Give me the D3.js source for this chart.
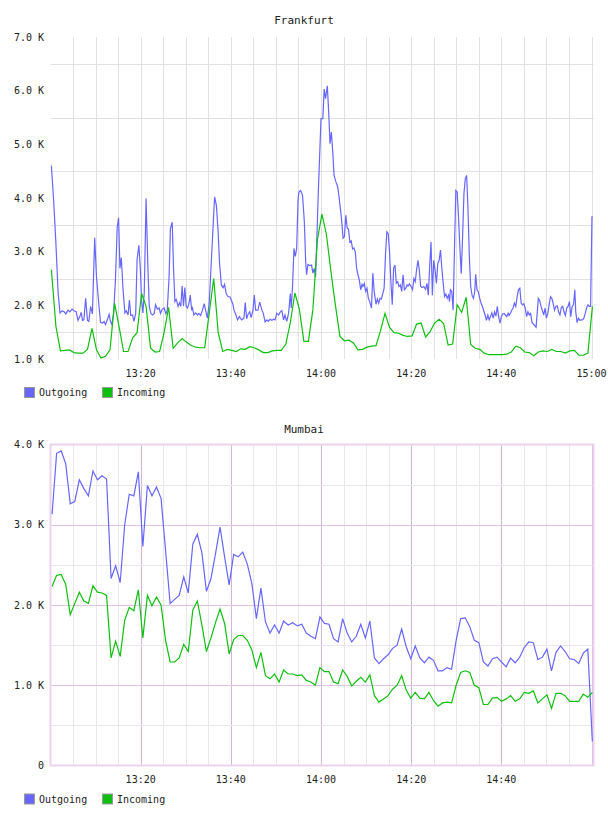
<!DOCTYPE html>
<html>
<head>
<meta charset="utf-8">
<script src="https://cdn.jsdelivr.net/npm/d3@7"></script>
<style>
  body { margin: 0; background: #fff; }
  text { font-family: "DejaVu Sans Mono", monospace; fill: #222; }
</style>
</head>
<body>
<svg id="chart" width="608" height="816"></svg>
<script>
// minutes after 13:00 -> value in K
var frankfurtOut = [[0.2,4.60],[0.7,3.95],[1.2,3.15],[1.7,2.22],[2.1,1.86],[2.6,1.90],[3.0,1.88],[3.4,1.84],[3.9,1.91],[4.3,1.88],[4.8,1.93],[5.2,1.90],[5.7,1.88],[6.1,1.72],[6.5,1.79],[6.8,1.87],[7.1,1.72],[7.4,1.73],[7.8,2.13],[8.2,1.72],[8.5,1.70],[8.9,1.98],[9.3,1.84],[9.8,3.26],[10.2,2.53],[10.7,2.04],[11.1,1.68],[11.5,1.67],[11.9,1.70],[12.2,1.64],[12.6,1.73],[13.0,1.83],[13.3,1.70],[13.6,1.64],[14.0,1.85],[14.4,2.47],[14.8,3.46],[15.1,3.63],[15.4,2.69],[15.7,2.89],[16.1,2.29],[16.5,1.86],[16.8,1.90],[17.2,1.82],[17.5,2.10],[17.8,1.81],[18.2,1.82],[18.5,1.70],[18.9,1.85],[19.2,2.85],[19.6,3.12],[19.9,2.72],[20.2,2.09],[20.5,1.86],[20.8,2.25],[21.2,3.99],[21.6,2.72],[21.9,1.98],[22.3,1.84],[22.7,1.82],[23.0,1.85],[23.3,2.01],[23.7,1.93],[24.1,1.95],[24.4,1.85],[24.8,1.93],[25.2,1.95],[25.6,1.84],[25.9,1.91],[26.3,2.53],[26.6,3.43],[27.0,3.55],[27.3,2.66],[27.6,2.07],[27.9,2.11],[28.3,1.98],[28.6,2.05],[28.9,1.98],[29.2,2.36],[29.5,1.99],[29.8,2.33],[30.1,1.98],[30.4,1.95],[30.7,2.03],[31.0,2.19],[31.3,1.91],[31.5,1.95],[31.8,1.82],[32.2,1.86],[32.6,1.82],[32.9,1.85],[33.3,1.81],[33.7,1.91],[34.1,2.03],[34.4,1.91],[34.8,1.76],[35.2,2.04],[35.5,2.53],[36.0,3.37],[36.4,4.02],[36.8,3.86],[37.2,3.34],[37.5,2.78],[37.9,2.38],[38.3,2.33],[38.6,2.39],[39.0,2.21],[39.4,2.16],[39.8,2.16],[40.1,2.10],[40.5,2.01],
  [40.7,1.91],[41.1,1.83],[41.5,1.73],[41.9,1.79],[42.4,1.73],[42.9,1.76],[43.2,2.05],[43.5,1.75],[43.8,1.83],[44.2,1.88],[44.5,1.77],[44.9,1.90],[45.2,2.19],[45.5,1.91],[46.0,1.91],[46.4,2.06],[46.9,1.91],[47.2,1.85],[47.6,1.69],[48.0,1.73],[48.3,1.70],[48.7,1.74],[49.1,1.72],[49.5,1.74],[49.8,1.73],[50.2,1.85],[50.6,1.82],[50.9,1.87],[51.3,1.90],[51.7,1.73],[52.0,1.82],[52.4,1.70],[52.8,1.85],[53.2,2.22],[53.4,1.95],[53.7,2.38],[54.0,3.06],[54.3,2.91],[54.6,3.06],[54.9,3.96],[55.1,4.11],[55.5,4.14],[55.9,4.05],[56.3,3.56],[56.6,2.81],[56.8,2.57],[57.1,2.76],[57.5,2.74],[57.9,2.75],[58.2,2.60],[58.5,2.69],[58.8,2.53],[59.1,3.31],[59.4,4.11],[59.7,4.79],[60.0,5.48],[60.4,5.48],[60.7,6.03],[61.0,5.85],[61.4,6.09],[61.7,5.60],[62.0,5.01],[62.3,5.23],[62.6,4.86],[62.9,4.42],[63.3,4.30],[63.7,4.21],[64.0,4.02],[64.3,3.80],[64.6,3.56],[64.9,3.25],[65.2,3.28],[65.5,3.68],[65.8,3.44],[66.1,3.42],[66.4,3.18],[66.7,3.20],[67.0,3.05],[67.3,3.07],[67.6,3.00],[67.9,2.69],[68.2,2.57],[68.5,2.47],[68.8,2.29],[69.1,2.39],[69.3,2.35],[69.6,2.41],[69.9,2.26],[70.2,2.32],[70.5,2.13],[70.8,2.07],[71.2,1.95],[71.5,2.60],[71.8,2.26],[72.2,2.02],[72.5,2.12],[72.8,2.04],[73.1,2.13],[73.4,2.12],[73.7,2.22],[74.0,2.32],[74.3,2.94],[74.6,3.37],[74.9,3.34],[75.2,3.00],[75.5,2.44],[75.8,2.01],[76.1,2.69],[76.4,2.75],[76.7,2.41],[77.0,2.44],[77.3,2.35],[77.6,2.38],[77.9,2.26],[78.2,2.57],[78.5,2.29],[78.8,2.32],[79.1,2.38],[79.3,2.36],[79.6,2.40],[80.0,2.35],
  [80.3,2.29],[80.6,2.50],[80.9,2.44],[81.2,2.66],[81.5,2.84],[81.8,2.66],[82.1,2.35],[82.4,2.33],[82.8,2.35],[83.2,2.30],[83.5,2.41],[83.8,2.19],[84.1,2.72],[84.4,3.18],[84.7,2.19],[85.0,2.84],[85.3,2.66],[85.6,2.41],[85.9,2.78],[86.2,2.84],[86.5,3.03],[86.8,2.69],[87.1,2.41],[87.4,2.16],[87.7,2.21],[88.0,2.13],[88.3,2.19],[88.5,2.07],[88.7,2.29],[89.0,2.26],[89.3,1.91],[89.6,3.03],[89.9,4.14],[90.2,4.11],[90.5,3.65],[90.8,3.09],[91.1,2.59],[91.4,3.27],[91.7,4.08],[92.0,4.36],[92.3,4.42],[92.6,3.80],[92.9,2.90],[93.2,2.35],[93.5,2.19],[93.8,2.13],[94.1,2.25],[94.3,2.58],[94.6,2.29],[94.9,2.25],[95.2,2.13],[95.5,2.04],[95.8,1.98],[96.1,1.90],[96.4,1.82],[96.7,1.72],[97.0,1.82],[97.3,1.73],[97.6,1.79],[97.9,1.86],[98.2,1.76],[98.5,1.88],[98.8,1.80],[99.1,1.98],[99.4,1.79],[99.7,1.67],[100.0,1.79],[100.3,1.84],[100.6,1.85],[100.9,1.82],[101.2,1.79],[101.5,1.85],[101.7,1.81],[102.0,1.85],[102.3,1.91],[102.6,1.95],[102.9,2.04],[103.2,1.98],[103.5,2.16],[103.8,2.29],[104.1,2.32],[104.4,2.04],[104.7,2.01],[105.0,2.03],[105.3,1.95],[105.6,1.79],[105.9,1.88],[106.2,1.82],[106.5,1.85],[106.8,1.68],[107.1,1.65],[107.4,1.62],[107.7,1.59],[108.0,1.91],[108.2,2.13],[108.5,2.09],[108.8,1.98],[109.1,1.90],[109.4,1.82],[109.7,1.95],[110.0,1.76],[110.3,1.85],[110.6,2.01],[110.9,2.16],[111.2,2.13],[111.5,2.03],[111.8,1.91],[112.1,1.98],[112.4,1.99],[112.7,1.88],[113.0,1.82],[113.3,1.96],[113.6,1.98],[113.9,1.88],[114.2,1.81],[114.5,1.95],[114.8,1.98],[115.1,2.07],[115.4,1.79],[115.7,1.98],[116.0,2.01],[116.3,2.29],[116.5,1.88],[116.8,1.68],[117.1,1.76],[117.4,1.72],[117.7,1.73],[118.0,1.73],[118.3,1.76],[118.6,1.85],[118.9,1.95],[119.2,2.01],[119.5,1.98],[119.8,1.98],[120.1,3.65],[120.3,3.65]];

// one sample per minute, first at 13:00:12
var frankfurtInStart = 0.2, frankfurtInStep = 1.0;
var frankfurtIn = [2.66,1.61,1.15,1.16,1.17,1.12,1.11,1.11,1.18,1.57,1.17,1.02,1.05,1.17,2.04,1.61,1.14,1.14,1.39,1.49,
  2.22,1.98,1.20,1.13,1.14,1.49,1.96,1.20,1.30,1.38,1.31,1.25,1.22,1.21,1.21,1.85,2.50,1.49,1.14,1.18,
  1.16,1.14,1.19,1.18,1.23,1.21,1.17,1.12,1.12,1.15,1.16,1.16,1.28,1.68,2.23,1.93,1.33,1.33,1.92,3.22,
  3.70,3.32,2.63,2.00,1.42,1.34,1.35,1.30,1.17,1.18,1.22,1.24,1.25,1.53,1.85,1.59,1.49,1.48,1.44,1.42,
  1.43,1.65,1.67,1.41,1.51,1.67,1.74,1.66,1.26,1.28,2.01,1.87,2.15,1.27,1.20,1.18,1.11,1.08,1.08,1.08,
  1.08,1.09,1.13,1.24,1.21,1.13,1.12,1.06,1.13,1.15,1.14,1.18,1.14,1.14,1.11,1.15,1.16,1.07,1.07,1.11,1.98];

var mumbaiStart = 0.35, mumbaiStep = 1.007;
var mumbaiOut = [3.13,3.89,3.92,3.76,3.26,3.29,3.56,3.45,3.36,3.67,3.56,3.61,3.57,2.33,2.49,2.28,3.00,3.38,3.36,3.66,
  2.73,3.49,3.36,3.47,3.33,2.68,2.02,2.07,2.12,2.35,2.15,2.76,2.88,2.65,2.17,2.33,2.64,2.97,2.60,2.25,
  2.63,2.60,2.66,2.51,2.27,1.83,2.21,1.79,1.65,1.75,1.65,1.80,1.75,1.78,1.74,1.76,1.65,1.61,1.58,1.85,
  1.77,1.76,1.58,1.54,1.83,1.65,1.54,1.61,1.76,1.59,1.80,1.34,1.27,1.33,1.38,1.46,1.50,1.70,1.48,1.33,
  1.49,1.34,1.28,1.35,1.31,1.18,1.18,1.22,1.20,1.56,1.83,1.84,1.73,1.56,1.53,1.29,1.24,1.33,1.35,1.29,
  1.23,1.34,1.28,1.35,1.47,1.54,1.53,1.32,1.35,1.45,1.18,1.41,1.49,1.42,1.33,1.32,1.27,1.40,1.45,0.30];
var mumbaiIn = [2.23,2.37,2.38,2.26,1.88,2.02,2.16,2.05,2.02,2.24,2.16,2.15,2.12,1.34,1.55,1.36,1.81,1.97,1.93,2.19,
  1.59,2.12,1.99,2.10,2.00,1.56,1.29,1.29,1.34,1.51,1.42,1.94,2.05,1.75,1.42,1.59,1.78,1.95,1.77,1.39,
  1.57,1.62,1.62,1.56,1.44,1.22,1.41,1.12,1.08,1.14,1.04,1.19,1.14,1.14,1.12,1.13,1.06,1.04,1.00,1.22,
  1.17,1.17,1.04,1.02,1.19,1.11,0.99,1.05,1.10,1.04,1.13,0.87,0.79,0.83,0.87,0.95,1.00,1.12,0.94,0.84,
  0.91,0.84,0.83,0.91,0.81,0.74,0.78,0.79,0.78,1.00,1.16,1.18,1.16,1.00,0.97,0.76,0.76,0.84,0.85,0.80,
  0.83,0.87,0.80,0.83,0.91,0.90,0.93,0.78,0.83,0.88,0.71,0.90,0.90,0.87,0.80,0.80,0.80,0.89,0.85,0.91];

var seriesNames = ["Outgoing", "Incoming"];
var seriesColors = ["#6767ff", "#0fbf0f"];
var frankfurtTicksY = [1, 2, 3, 4, 5, 6, 7];
var frankfurtTicksX = ["13:20", "13:40", "14:00", "14:20", "14:40", "15:00"];
var mumbaiTicksY = [0, 1, 2, 3, 4];
var mumbaiTicksX = ["13:20", "13:40", "14:00", "14:20", "14:40"];

var base = new Date(2000, 0, 1, 13, 0, 0).getTime();
function toDate(min) { return new Date(base + min * 60000); }
function hm(s) { var p = s.split(":"); return toDate((+p[0] - 13) * 60 + (+p[1])); }
function regular(vals, start, step) { return vals.map(function(v, i) { return [start + i * step, v]; }); }

var svg = d3.select("#chart");

function drawChart(o) {
  var x = d3.scaleTime().domain([toDate(0), toDate(120.55)]).range([50.5, 594]);
  var y = d3.scaleLinear().domain(o.yDomain).range([o.bottom, o.top]);
  var g = svg.append("g");

  g.append("text")
    .attr("x", 304).attr("y", o.top - o.titleGap)
    .attr("text-anchor", "middle")
    .style("font-size", "11px")
    .text(o.title);

  // vertical grid every 5 minutes
  var minor = d3.timeMinute.every(5).range(toDate(5), toDate(120.4));
  g.selectAll(".vgrid").data(minor).enter().append("line")
    .attr("x1", function(d) { return Math.round(x(d)) + 0.5; })
    .attr("x2", function(d) { return Math.round(x(d)) + 0.5; })
    .attr("y1", o.top).attr("y2", o.bottom)
    .style("stroke", function(d) { return o.pink && d.getMinutes() % 20 === 0 ? "#d6b4da" : o.gridColor; })
    .style("stroke-width", 1);

  // horizontal grid
  var hvals = d3.range(o.yDomain[0] + 0.5, o.yDomain[1], 0.5);
  if (!o.pink) hvals = hvals.filter(function(v) { return v % 1 !== 0; });
  g.selectAll(".hgrid").data(hvals).enter().append("line")
    .attr("x1", 50.5).attr("x2", 594)
    .attr("y1", function(d) { return Math.round(y(d)) + 0.5; })
    .attr("y2", function(d) { return Math.round(y(d)) + 0.5; })
    .style("stroke", function(d) { return o.pink && d % 1 === 0 ? "#e0c4e3" : o.gridColor; });

  if (o.pink) {
    g.append("rect")
      .attr("x", 50.5).attr("y", o.top)
      .attr("width", 543).attr("height", o.bottom - o.top)
      .style("fill", "none").style("stroke", "#ebd3ee").style("stroke-width", 2);
  }

  // y labels
  g.selectAll(".ylab").data(o.ticksY).enter().append("text")
    .attr("x", 44).attr("y", function(d) { return y(d); })
    .attr("dy", "0.35em")
    .attr("text-anchor", "end")
    .style("font-size", "10px")
    .text(function(d) { return d === 0 ? "0" : d.toFixed(1) + " K"; });

  // x labels
  g.selectAll(".xlab").data(o.ticksX).enter().append("text")
    .attr("x", function(d) { return x(hm(d)); })
    .attr("y", o.bottom + 14)
    .attr("dy", "0.35em")
    .attr("text-anchor", "middle")
    .style("font-size", "10px")
    .text(function(d) { return d; });

  var line = d3.line()
    .x(function(d) { return x(toDate(d[0])); })
    .y(function(d) { return y(d[1]); });

  o.series.forEach(function(s, i) {
    g.append("path")
      .datum(s)
      .attr("d", line)
      .style("fill", "none")
      .style("stroke", seriesColors[i])
      .style("stroke-width", 1.2);
  });

  // legend
  var leg = g.selectAll(".legend").data(seriesNames).enter().append("g")
    .attr("transform", function(d, i) { return "translate(" + (24 + i * 78) + "," + (o.bottom + 28) + ")"; });
  leg.append("rect")
    .attr("x", 0.5).attr("y", 0.5).attr("width", 10).attr("height", 10)
    .style("fill", function(d, i) { return seriesColors[i]; })
    .style("stroke", "#999");
  leg.append("text")
    .attr("x", 15).attr("y", 5.5)
    .attr("dy", "0.35em")
    .style("font-size", "10px")
    .text(function(d) { return d; });
}

drawChart({
  title: "Frankfurt", top: 37, bottom: 359, yDomain: [1, 7], titleGap: 13,
  ticksY: frankfurtTicksY, ticksX: frankfurtTicksX, gridColor: "#e2e2e2", pink: false,
  series: [frankfurtOut, regular(frankfurtIn, frankfurtInStart, frankfurtInStep)]
});

drawChart({
  title: "Mumbai", top: 444.5, bottom: 765.5, yDomain: [0, 4], titleGap: 12,
  ticksY: mumbaiTicksY, ticksX: mumbaiTicksX, gridColor: "#ebe6ec", pink: true,
  series: [regular(mumbaiOut, mumbaiStart, mumbaiStep), regular(mumbaiIn, mumbaiStart, mumbaiStep)]
});
</script>
</body>
</html>
